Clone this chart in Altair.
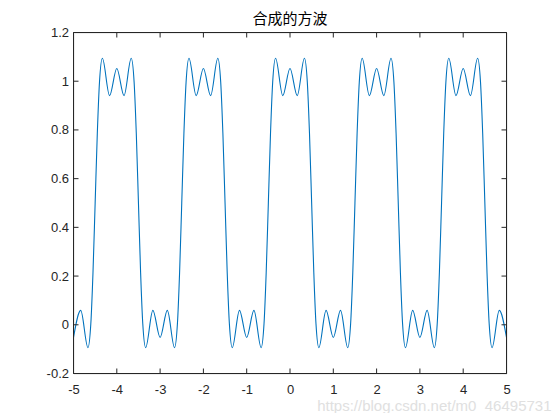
import altair as alt
import pandas as pd

# Curve points (x, y)
x_vals = [
    -5, -4.833, -4.667, -4.6, -4.55, -4.5, -4.45, -4.4, -4.333, -4.167,
    -4, -3.833, -3.667, -3.6, -3.55, -3.5, -3.45, -3.4, -3.333, -3.167,
    -3, -2.833, -2.667, -2.6, -2.55, -2.5, -2.45, -2.4, -2.333, -2.167,
    -2, -1.833, -1.667, -1.6, -1.55, -1.5, -1.45, -1.4, -1.333, -1.167,
    -1, -0.833, -0.667, -0.6, -0.55, -0.5, -0.45, -0.4, -0.333, -0.167,
    0, 0.167, 0.333, 0.4, 0.45, 0.5, 0.55, 0.6, 0.667, 0.833,
    1, 1.167, 1.333, 1.4, 1.45, 1.5, 1.55, 1.6, 1.667, 1.833,
    2, 2.167, 2.333, 2.4, 2.45, 2.5, 2.55, 2.6, 2.667, 2.833,
    3, 3.167, 3.333, 3.4, 3.45, 3.5, 3.55, 3.6, 3.667, 3.833,
    4, 4.167, 4.333, 4.4, 4.45, 4.5, 4.55, 4.6, 4.667, 4.833,
    5,
]
y_vals = [
    -0.052, 0.059, -0.094, 0.004, 0.214, 0.5, 0.786, 0.996, 1.094, 0.941,
    1.052, 0.941, 1.094, 0.996, 0.786, 0.5, 0.214, 0.004, -0.094, 0.059,
    -0.052, 0.059, -0.094, 0.004, 0.214, 0.5, 0.786, 0.996, 1.094, 0.941,
    1.052, 0.941, 1.094, 0.996, 0.786, 0.5, 0.214, 0.004, -0.094, 0.059,
    -0.052, 0.059, -0.094, 0.004, 0.214, 0.5, 0.786, 0.996, 1.094, 0.941,
    1.052, 0.941, 1.094, 0.996, 0.786, 0.5, 0.214, 0.004, -0.094, 0.059,
    -0.052, 0.059, -0.094, 0.004, 0.214, 0.5, 0.786, 0.996, 1.094, 0.941,
    1.052, 0.941, 1.094, 0.996, 0.786, 0.5, 0.214, 0.004, -0.094, 0.059,
    -0.052, 0.059, -0.094, 0.004, 0.214, 0.5, 0.786, 0.996, 1.094, 0.941,
    1.052, 0.941, 1.094, 0.996, 0.786, 0.5, 0.214, 0.004, -0.094, 0.059,
    -0.052,
]
x_ticks = [-5, -4, -3, -2, -1, 0, 1, 2, 3, 4, 5]
y_ticks = [-0.2, 0, 0.2, 0.4, 0.6, 0.8, 1, 1.2]
title_text = "合成的方波"
watermark = "https://blog.csdn.net/m0_46495731"

W, H = 433, 341
AX = "#262626"
LABEL_FONT = "Liberation Sans"

df = pd.DataFrame({"x": x_vals, "y": y_vals})
xt = pd.DataFrame({"t": x_ticks})
yt = pd.DataFrame({"t": y_ticks})

xscale = alt.Scale(domain=[-5, 5], nice=False, zero=False)
yscale = alt.Scale(domain=[-0.2, 1.2], nice=False, zero=False)

xaxis = alt.Axis(values=x_ticks, labelExpr="'' + datum.value", grid=False, ticks=False,
                 domain=False, labelPadding=10, labelFontSize=13, labelFont=LABEL_FONT,
                 labelColor=AX, title=None, labelFlush=False)
yaxis = alt.Axis(values=y_ticks, labelExpr="'' + datum.value", grid=False, ticks=False,
                 domain=False, labelPadding=5, labelFontSize=13, labelFont=LABEL_FONT,
                 labelColor=AX, title=None, labelFlush=False)

line = alt.Chart(df).mark_line(color="#0072BD", strokeWidth=1.1, interpolate="monotone").encode(
    x=alt.X("x:Q", scale=xscale, axis=xaxis),
    y=alt.Y("y:Q", scale=yscale, axis=yaxis),
)

tick_len = 5
xt_bottom = alt.Chart(xt).mark_rule(color=AX, strokeWidth=1).encode(
    x=alt.X("t:Q", scale=xscale), y=alt.value(H), y2=alt.value(H - tick_len))
xt_top = alt.Chart(xt).mark_rule(color=AX, strokeWidth=1).encode(
    x=alt.X("t:Q", scale=xscale), y=alt.value(0), y2=alt.value(tick_len))
yt_left = alt.Chart(yt).mark_rule(color=AX, strokeWidth=1).encode(
    y=alt.Y("t:Q", scale=yscale), x=alt.value(0), x2=alt.value(tick_len))
yt_right = alt.Chart(yt).mark_rule(color=AX, strokeWidth=1).encode(
    y=alt.Y("t:Q", scale=yscale), x=alt.value(W), x2=alt.value(W - tick_len))

# Axes box (frame lines)
box = pd.DataFrame({"k": [0]})
frame = [
    alt.Chart(box).mark_rule(color=AX, strokeWidth=1).encode(
        x=alt.value(0), y=alt.value(0), y2=alt.value(H)),
    alt.Chart(box).mark_rule(color=AX, strokeWidth=1).encode(
        x=alt.value(W), y=alt.value(0), y2=alt.value(H)),
    alt.Chart(box).mark_rule(color=AX, strokeWidth=1).encode(
        y=alt.value(0), x=alt.value(0), x2=alt.value(W)),
    alt.Chart(box).mark_rule(color=AX, strokeWidth=1).encode(
        y=alt.value(H), x=alt.value(0), x2=alt.value(W)),
]

wm = alt.Chart(pd.DataFrame({"s": [watermark]})).mark_text(
    align="right", baseline="alphabetic", fontSize=15, font="Liberation Sans", color="#e0e0e0"
).encode(text="s:N", x=alt.value(W + 45), y=alt.value(H + 37))

chart = alt.layer(line, xt_bottom, xt_top, yt_left, yt_right, *frame, wm).properties(
    width=W, height=H,
    title=alt.TitleParams(title_text, fontSize=15, fontWeight="normal", font="Noto Sans CJK SC",
                          color="#000000", anchor="middle", offset=0),
    autosize=alt.AutoSizeParams(type="none"),
    padding={"left": 65.5, "top": 24.5, "right": 45.5, "bottom": 39.5},
).configure_view(strokeWidth=0).configure(background="white")

chart.save("out.html", embed_options={"renderer": "svg", "actions": False})
